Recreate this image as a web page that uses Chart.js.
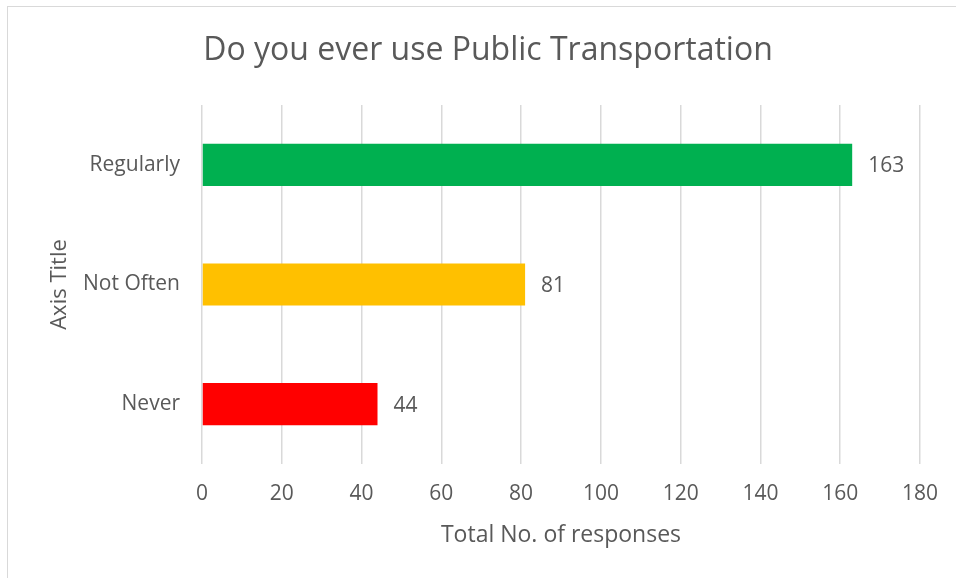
<!DOCTYPE html>
<html>
<head>
<meta charset="utf-8">
<script src="https://cdn.jsdelivr.net/npm/chart.js@4/dist/chart.umd.min.js"></script>
<style>
  html, body { margin: 0; padding: 0; background: #ffffff; overflow: hidden; }
  #frame {
    position: absolute; left: 7px; top: 6px; width: 1000px; height: 1000px;
    border-left: 1.5px solid #d9d9d9; border-top: 1.5px solid #d9d9d9;
  }
  #wrap { position: absolute; left: 0; top: 0; width: 956px; height: 578px; }
</style>
</head>
<body>
<div id="frame"></div>
<div id="wrap"><canvas id="chart" width="956" height="578"></canvas></div>
<script>
const chartTitle = 'Do you ever use Public Transportation';
const categories = ['Regularly', 'Not Often', 'Never'];
const responses = [163, 81, 44];
const barColors = ['#00B050', '#FFC000', '#FF0000'];
const xTicks = [0, 20, 40, 60, 80, 100, 120, 140, 160, 180];
const xAxisTitle = 'Total No. of responses';
const yAxisTitle = 'Axis Title';

const FONT = "'Open Sans', 'Liberation Sans', sans-serif";
const TEXT = '#595959';
const GRID = '#d9d9d9';

// Heading drawn centred over the chart frame
const headingPlugin = {
  id: 'heading',
  afterDraw(chart) {
    const ctx = chart.ctx;
    ctx.save();
    ctx.font = '32px ' + FONT;
    ctx.fillStyle = TEXT;
    ctx.textAlign = 'center';
    ctx.textBaseline = 'middle';
    ctx.fillText(chartTitle, 488, 51);
    ctx.restore();
  }
};

// Value labels just past the end of each bar
const valueLabels = {
  id: 'valueLabels',
  afterDatasetsDraw(chart) {
    const ctx = chart.ctx;
    const meta = chart.getDatasetMeta(0);
    ctx.save();
    ctx.font = '21px ' + FONT;
    ctx.fillStyle = TEXT;
    ctx.textAlign = 'left';
    ctx.textBaseline = 'middle';
    meta.data.forEach((bar, i) => {
      ctx.fillText(String(responses[i]), bar.x + 16, bar.y + 1.5);
    });
    ctx.restore();
  }
};

new Chart(document.getElementById('chart'), {
  type: 'bar',
  data: {
    labels: categories,
    datasets: [{
      data: responses,
      backgroundColor: barColors,
      borderWidth: 0,
      categoryPercentage: 1.0,
      barPercentage: 0.353
    }]
  },
  options: {
    indexAxis: 'y',
    responsive: false,
    animation: false,
    events: [],
    layout: { padding: { left: 0, right: 36, top: 105, bottom: 0 } },
    plugins: {
      legend: { display: false },
      title: { display: false },
      tooltip: { enabled: false }
    },
    scales: {
      x: {
        type: 'linear',
        min: xTicks[0],
        max: xTicks[xTicks.length - 1],
        afterBuildTicks(scale) {
          scale.ticks = xTicks.map(v => ({ value: v }));
        },
        afterFit(scale) { scale.height = 114; },
        grid: { color: GRID, lineWidth: 1.5, drawTicks: false },
        border: { display: false },
        ticks: {
          color: TEXT,
          font: { family: FONT, size: 21 },
          padding: 17
        },
        title: {
          display: true,
          text: xAxisTitle,
          color: TEXT,
          font: { family: FONT, size: 23 },
          padding: { top: 0, bottom: 29 }
        }
      },
      y: {
        afterFit(scale) { scale.width = 202; },
        grid: { display: false, drawTicks: false },
        border: { display: false },
        ticks: {
          color: TEXT,
          font: { family: FONT, size: 21 },
          padding: 22
        },
        title: {
          display: true,
          text: yAxisTitle,
          color: TEXT,
          font: { family: FONT, size: 22 },
          padding: { top: 47, bottom: 0 }
        }
      }
    }
  },
  plugins: [headingPlugin, valueLabels]
});
</script>
</body>
</html>
